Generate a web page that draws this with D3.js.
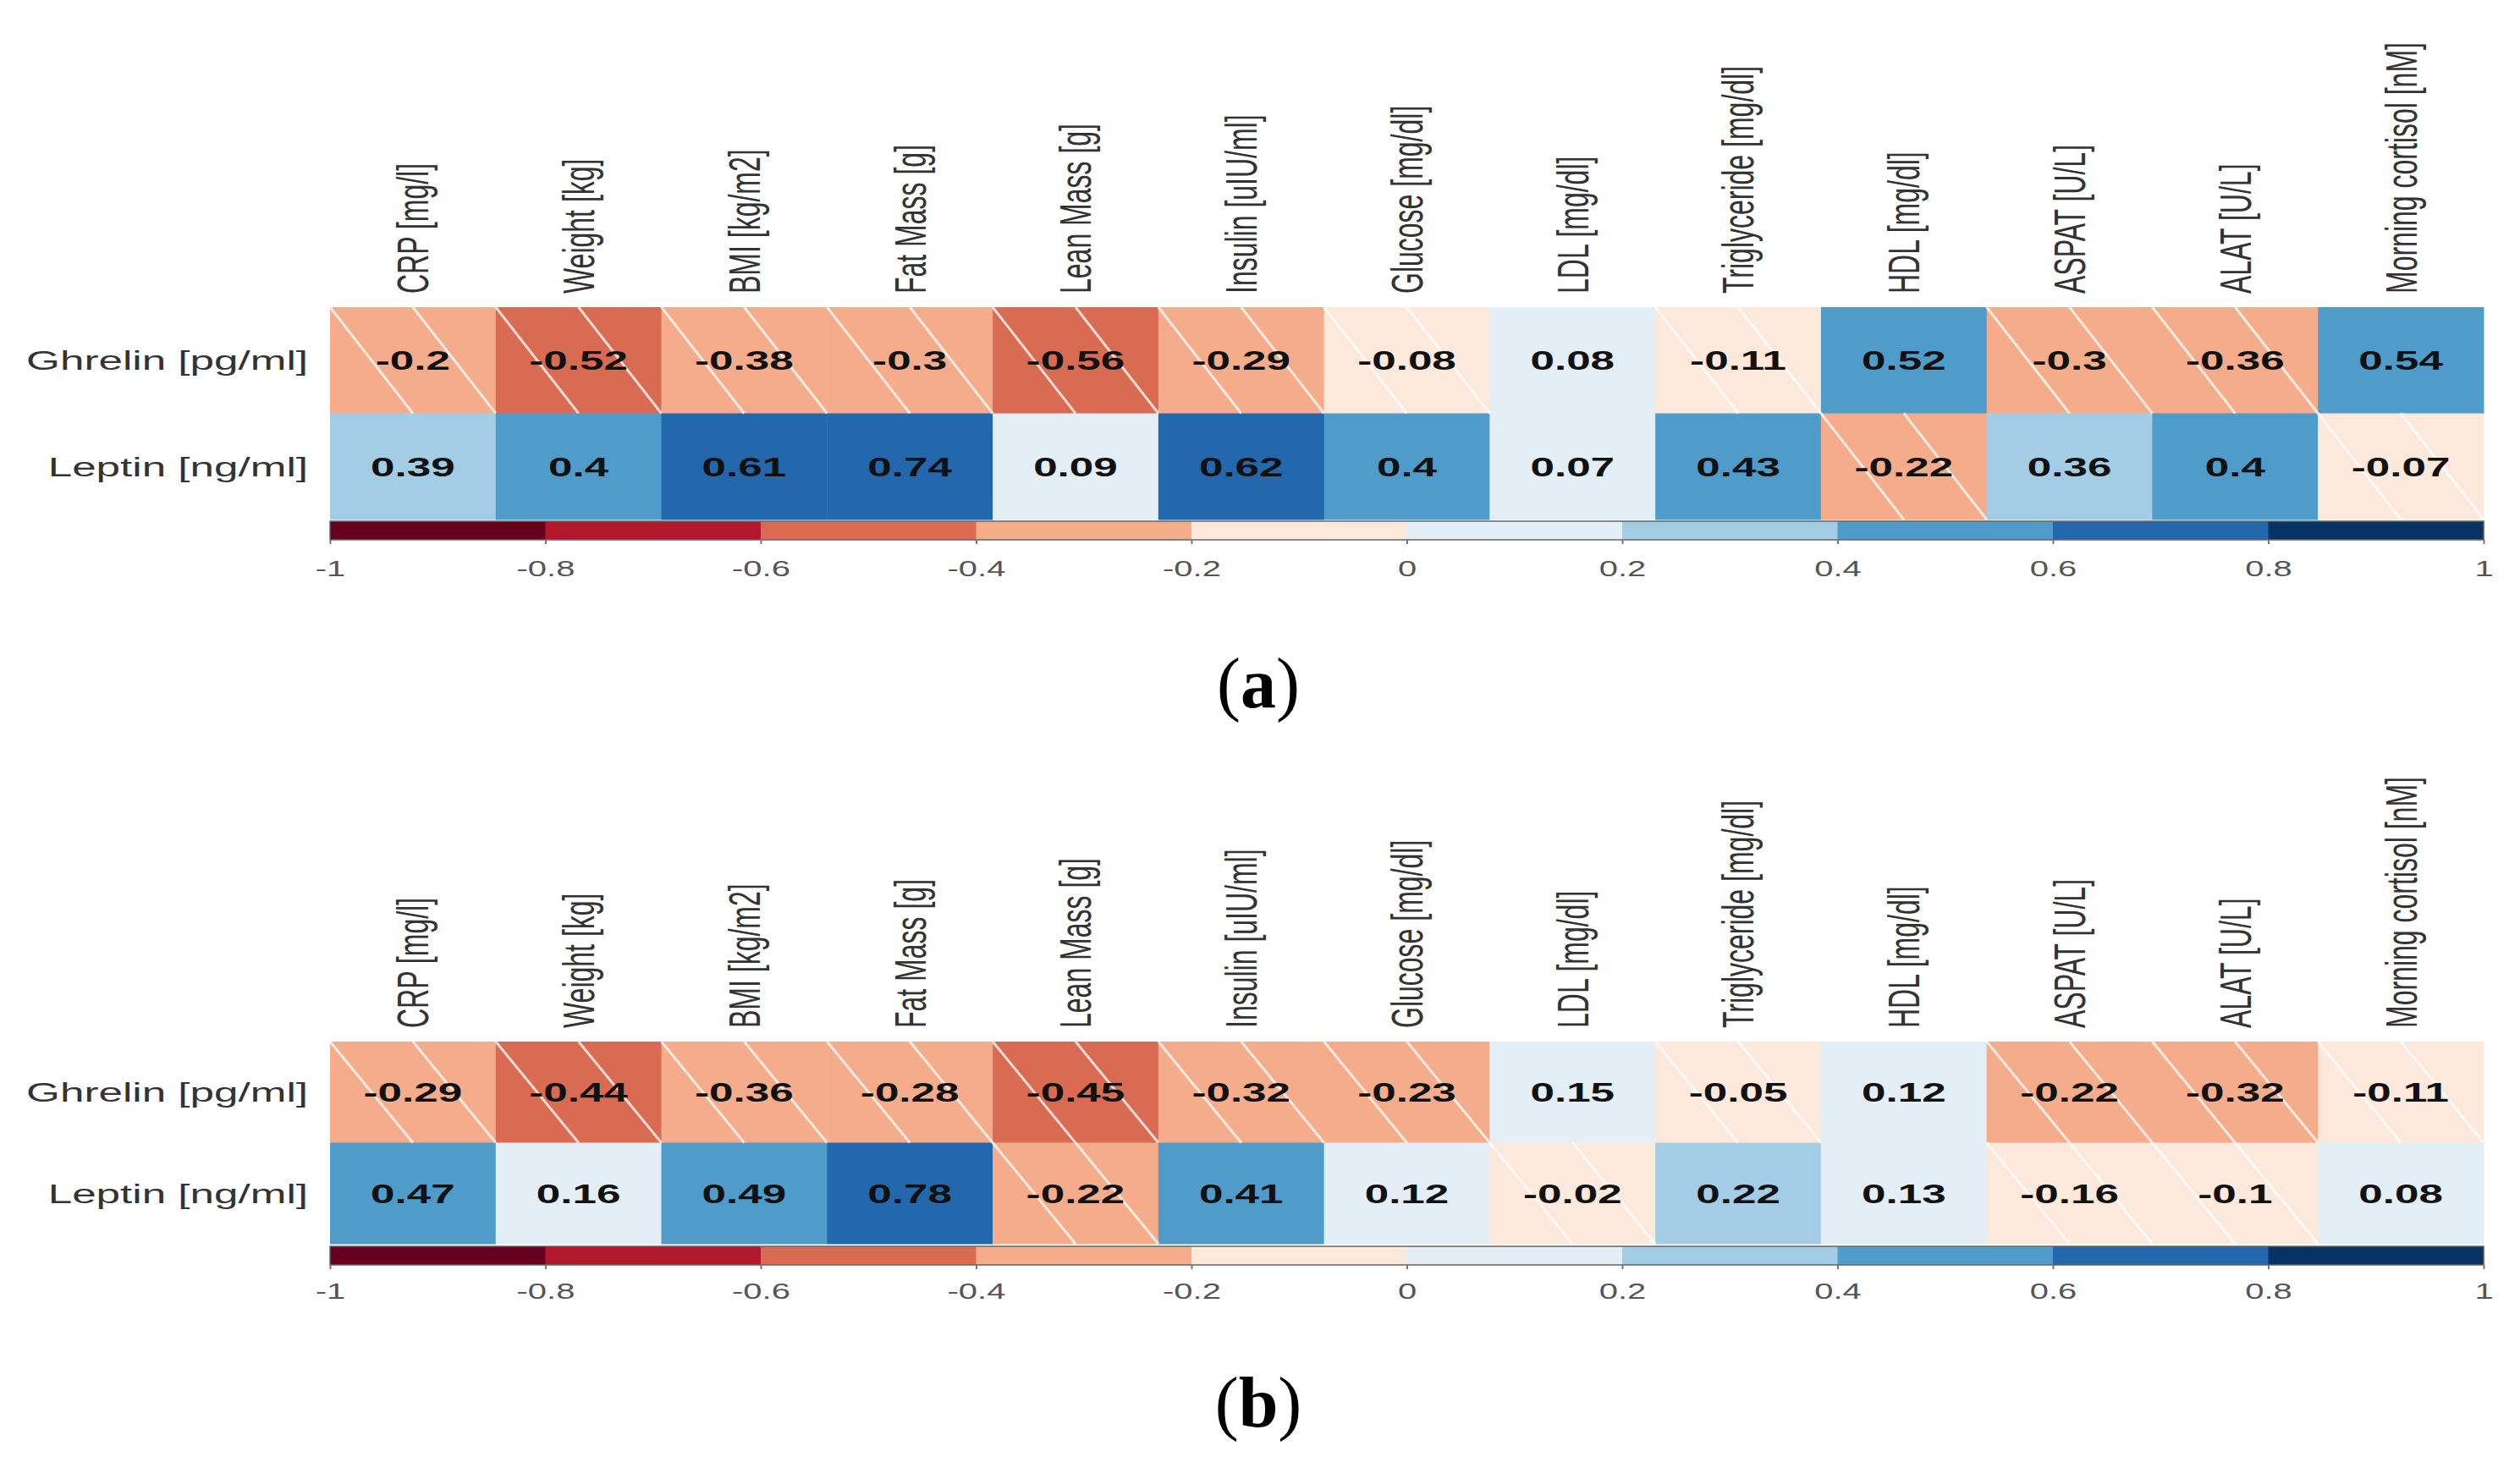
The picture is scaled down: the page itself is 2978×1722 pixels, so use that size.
<!DOCTYPE html>
<html>
<head>
<meta charset="utf-8">
<script src="https://cdn.jsdelivr.net/npm/d3@7"></script>
<style>
  body { margin: 0; background: #fff; }
  svg text { font-family: "Liberation Sans", Arial, sans-serif; }
</style>
</head>
<body>
<div id="chart"></div>
<script>
const variables = ["CRP [mg/l]", "Weight [kg]", "BMI [kg/m2]", "Fat Mass [g]", "Lean Mass [g]",
  "Insulin [uIU/ml]", "Glucose [mg/dl]", "LDL [mg/dl]", "Triglyceride [mg/dl]", "HDL [mg/dl]",
  "ASPAT [U/L]", "ALAT [U/L]", "Morning cortisol [nM]"];
const hormones = ["Ghrelin [pg/ml]", "Leptin [ng/ml]"];

// panel (a)
const ghrelinA = [-0.2, -0.52, -0.38, -0.3, -0.56, -0.29, -0.08, 0.08, -0.11, 0.52, -0.3, -0.36, 0.54];
const leptinA  = [0.39, 0.4, 0.61, 0.74, 0.09, 0.62, 0.4, 0.07, 0.43, -0.22, 0.36, 0.4, -0.07];
// panel (b)
const ghrelinB = [-0.29, -0.44, -0.36, -0.28, -0.45, -0.32, -0.23, 0.15, -0.05, 0.12, -0.22, -0.32, -0.11];
const leptinB  = [0.47, 0.16, 0.49, 0.78, -0.22, 0.41, 0.12, -0.02, 0.22, 0.13, -0.16, -0.1, 0.08];

const colorBreaks = [-1, -0.8, -0.6, -0.4, -0.2, 0, 0.2, 0.4, 0.6, 0.8, 1];
const tickLabels = ["-1", "-0.8", "-0.6", "-0.4", "-0.2", "0", "0.2", "0.4", "0.6", "0.8", "1"];
const palette = ["#67001F", "#B2182B", "#DA6B53", "#F4AC8A", "#FDE8DC",
                 "#E3EEF6", "#A3CDE4", "#4F9BCA", "#2367AD", "#063264"];

const W = 2978, H = 1722;
const SX = 1.6; // the figure is stretched horizontally, so is its text

const svg = d3.select("#chart").append("svg")
  .attr("width", W).attr("height", H);

const x = d3.scaleBand().domain(variables).range([390, 2935]);
const cb = d3.scaleLinear().domain([-1, 1]).range([390, 2935]);
// shown values are rounded; a value sitting on a break belongs to the outer bin
const color = d3.scaleThreshold().domain(colorBreaks.slice(1, -1)).range(palette);
const fillOf = v => color(v + Math.sign(v) * 0.001);

function panel(g, series, top, rowH, cbTop, cbH, tickY, caption, capY) {
  const y = d3.scaleBand().domain(hormones).range([top, top + rowH * 2]);
  const cells = [];
  series.forEach((vals, r) => vals.forEach((v, c) => cells.push({ row: hormones[r], col: variables[c], v })));

  g.selectAll("rect.cell").data(cells).join("rect")
    .attr("class", "cell")
    .attr("x", d => x(d.col)).attr("y", d => y(d.row))
    .attr("width", x.bandwidth() + 0.5).attr("height", y.bandwidth() + 0.5)
    .attr("fill", d => fillOf(d.v));

  // white hatching on negative cells
  const hatch = [];
  cells.filter(d => d.v < 0).forEach(d => {
    const x0 = x(d.col), w = x.bandwidth(), y0 = y(d.row), h = y.bandwidth();
    hatch.push([x0, y0, x0 + w / 2, y0 + h]);
    hatch.push([x0 + w / 2, y0, x0 + w, y0 + h]);
  });
  g.selectAll("line.hatch").data(hatch).join("line")
    .attr("class", "hatch")
    .attr("x1", d => d[0]).attr("y1", d => d[1])
    .attr("x2", d => d[2]).attr("y2", d => d[3])
    .attr("stroke", "#fff").attr("stroke-opacity", 0.75).attr("stroke-width", 3);

  g.selectAll("text.val").data(cells).join("text")
    .attr("class", "val")
    .attr("transform", d => `translate(${x(d.col) + x.bandwidth() / 2},${y(d.row) + y.bandwidth() / 2}) scale(${SX},1)`)
    .attr("text-anchor", "middle").attr("dy", "0.36em")
    .attr("font-size", 32).attr("font-weight", "bold").attr("fill", "#111")
    .text(d => d.v);

  g.selectAll("text.row").data(hormones).join("text")
    .attr("class", "row")
    .attr("transform", d => `translate(364,${y(d) + y.bandwidth() / 2}) scale(${SX},1)`)
    .attr("text-anchor", "end").attr("dy", "0.36em")
    .attr("font-size", 32).attr("fill", "#333")
    .text(d => d);

  g.selectAll("text.col").data(variables).join("text")
    .attr("class", "col")
    .attr("transform", d => `translate(${x(d) + x.bandwidth() / 2},${top - 16}) scale(${SX},1) rotate(-90)`)
    .attr("text-anchor", "start").attr("dy", "0.36em")
    .attr("font-size", 32).attr("fill", "#333")
    .text(d => d);

  // colour legend
  const bins = d3.range(palette.length);
  g.selectAll("rect.bin").data(bins).join("rect")
    .attr("class", "bin")
    .attr("x", i => cb(colorBreaks[i])).attr("y", cbTop)
    .attr("width", i => cb(colorBreaks[i + 1]) - cb(colorBreaks[i]) + 0.5)
    .attr("height", cbH)
    .attr("fill", i => palette[i]);
  g.append("rect")
    .attr("x", cb(-1)).attr("y", cbTop).attr("width", cb(1) - cb(-1)).attr("height", cbH)
    .attr("fill", "none").attr("stroke", "#666").attr("stroke-width", 1.5);

  const axis = g.append("g")
    .attr("transform", `translate(0,${cbTop + cbH})`)
    .call(d3.axisBottom(cb).tickValues(colorBreaks).tickSize(5)
      .tickFormat((d, i) => tickLabels[i]));
  axis.select(".domain").remove();
  axis.selectAll(".tick line").attr("stroke", "#777").attr("stroke-width", 2);
  axis.selectAll(".tick text")
    .attr("y", tickY - cbTop - cbH).attr("dy", 0)
    .attr("transform", `scale(${SX},1)`)
    .attr("font-size", 25).attr("fill", "#555")
    .style("font-family", '"Liberation Sans", Arial, sans-serif');

  const cap = g.append("text")
    .attr("x", 1487).attr("y", capY)
    .attr("text-anchor", "middle")
    .attr("font-size", 84)
    .style("font-family", '"Liberation Serif", "Times New Roman", serif');
  cap.append("tspan").text("(");
  cap.append("tspan").attr("font-weight", "bold").text(caption);
  cap.append("tspan").text(")");
}

panel(svg.append("g"), [ghrelinA, leptinA], 363, 125.5, 616, 22, 681, "a", 836);
panel(svg.append("g"), [ghrelinB, leptinB], 1231, 119.5, 1473, 22, 1535, "b", 1686);
</script>
</body>
</html>
